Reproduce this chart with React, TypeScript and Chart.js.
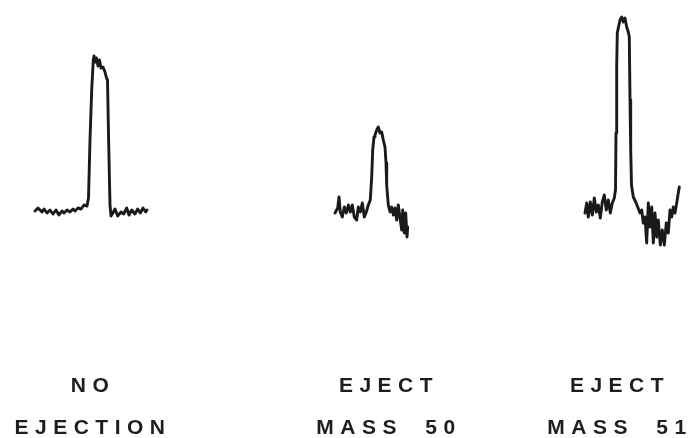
import React, { useEffect, useRef } from 'react';
import { Chart, registerables } from 'chart.js';

Chart.register(...registerables);

// Scan axis (arbitrary scan units) and detector signal (arbitrary units, baseline = 0)
const noEjectionScan = [35, 38, 42, 44, 47, 50, 53, 56, 59, 62, 64, 67, 70, 73, 75, 78, 81, 84, 87, 88.5, 90, 91.7, 93.3, 94, 95.5, 96.5, 98, 99.5, 101, 103, 105, 106.5, 107.5, 108.3, 109.3, 110, 111, 112.3, 115, 117.7, 121, 123.7, 126.7, 129, 131.7, 135, 137.7, 140.3, 143, 145.7, 147];
const noEjectionSignal = [2, 5, 1, 4, 0, 3, -1, 3, -2, 2, 0, 3, 1, 4, 2, 5, 4, 8, 7, 15, 73, 123, 153, 157, 151, 155, 147, 153, 145, 146, 141, 135, 133, 90, 40, 8, -3, -1, 4, -3, 1, -1, 5, -2, 3, -1, 4, 0, 5, 1, 3];

const eject50Scan = [335, 337.7, 339, 340.3, 342.3, 344.3, 346.3, 348.3, 350.3, 352.3, 354.3, 356.7, 358.3, 360.3, 362.3, 364.3, 366.3, 368.3, 370.3, 371.7, 372.7, 374, 375, 376.7, 378.3, 380, 381.7, 383.3, 385, 386, 386.7, 387.7, 388.3, 390, 391.7, 393.3, 395, 396.7, 398.3, 400, 401.7, 402.7, 404.3, 405.7, 407, 407.7];
const eject50Signal = [0, 5, 16, 1, -4, 6, 0, 8, 1, 8, -4, -7, 6, 1, 10, -4, 1, 8, 13, 36, 63, 76, 78, 83, 86, 80, 81, 73, 66, 50, 28, 15, 8, 1, 6, -2, 5, -7, 8, -5, -17, 3, -20, 0, -24, -14];

const eject51Scan = [585, 586.7, 588.3, 590.3, 592.3, 594.3, 596.3, 598.3, 600.3, 602.3, 604.3, 606.3, 608.3, 610.3, 612.3, 614.3, 615.5, 616, 616.7, 617.3, 618.3, 620, 621.7, 623.3, 625, 626.7, 628.3, 629.3, 630, 630.7, 631.5, 633.3, 635.7, 637.7, 640, 641.7, 643.3, 645, 646.7, 648.3, 650, 651.7, 653.3, 655, 656.7, 658.3, 660.3, 662.3, 664.3, 666.3, 668.3, 670, 671.7, 673.3, 675, 676.7, 678.3, 679.3];
const eject51Signal = [0, 10, -4, 11, -2, 15, 1, 8, -5, 11, 18, 3, 13, 0, 10, 15, 23, 80, 146, 180, 185, 193, 196, 191, 195, 186, 181, 176, 113, 63, 28, 16, 11, 6, 0, 3, -10, -4, -30, 10, -14, 6, -30, 0, -24, -7, -32, -17, -32, -10, -20, 3, -4, 6, 0, 10, 20, 26];

const panelTicks = [93, 389, 620];
const panelLabels: string[][] = [
  ['NO', 'EJECTION'],
  ['EJECT', 'MASS 50'],
  ['EJECT', 'MASS 51'],
];

const toPoints = (xs: number[], ys: number[]) => xs.map((x, i) => ({ x, y: ys[i] }));

const spacingPlugin = {
  id: 'letterSpacing',
  beforeLayout(chart: any) {
    chart.ctx.letterSpacing = '6.5px';
    chart.ctx.wordSpacing = '10px';
  },
  beforeDraw(chart: any) {
    chart.ctx.letterSpacing = '6.5px';
    chart.ctx.wordSpacing = '10px';
  },
};

export default function App() {
  const canvasRef = useRef<HTMLCanvasElement | null>(null);

  useEffect(() => {
    document.body.style.margin = '0';
    const canvas = canvasRef.current;
    if (!canvas) return;
    const lineStyle = {
      borderColor: '#1a1a1a',
      borderWidth: 2.9,
      pointRadius: 0,
      tension: 0,
      borderJoinStyle: 'round' as const,
      borderCapStyle: 'round' as const,
      fill: false,
    };
    const chart = new Chart(canvas, {
      type: 'line',
      data: {
        datasets: [
          { label: 'No ejection', data: toPoints(noEjectionScan, noEjectionSignal), ...lineStyle },
          { label: 'Eject mass 50', data: toPoints(eject50Scan, eject50Signal), ...lineStyle },
          { label: 'Eject mass 51', data: toPoints(eject51Scan, eject51Signal), ...lineStyle },
        ],
      },
      options: {
        responsive: false,
        animation: false,
        events: [],
        layout: { padding: 0 },
        plugins: { legend: { display: false }, tooltip: { enabled: false } },
        scales: {
          x: {
            type: 'linear',
            min: 0,
            max: 689,
            grid: { display: false },
            border: { display: false },
            afterBuildTicks: (scale: any) => {
              scale.ticks = panelTicks.map((v) => ({ value: v }));
            },
            afterFit: (scale: any) => {
              scale.height = 81;
              scale.paddingLeft = 0;
              scale.paddingRight = 0;
            },
            ticks: {
              autoSkip: false,
              maxRotation: 0,
              minRotation: 0,
              padding: 0,
              color: '#1e1e1e',
              font: { family: '"Liberation Sans", Arial, sans-serif', size: 21, weight: 'bold', lineHeight: 2 },
              callback: (_v: any, i: number) => panelLabels[i],
            },
          },
          y: { display: false, min: -144, max: 213 },
        },
      },
      plugins: [spacingPlugin],
    });
    return () => chart.destroy();
  }, []);

  return <canvas ref={canvasRef} width={689} height={438} style={{ display: 'block' }} />;
}
